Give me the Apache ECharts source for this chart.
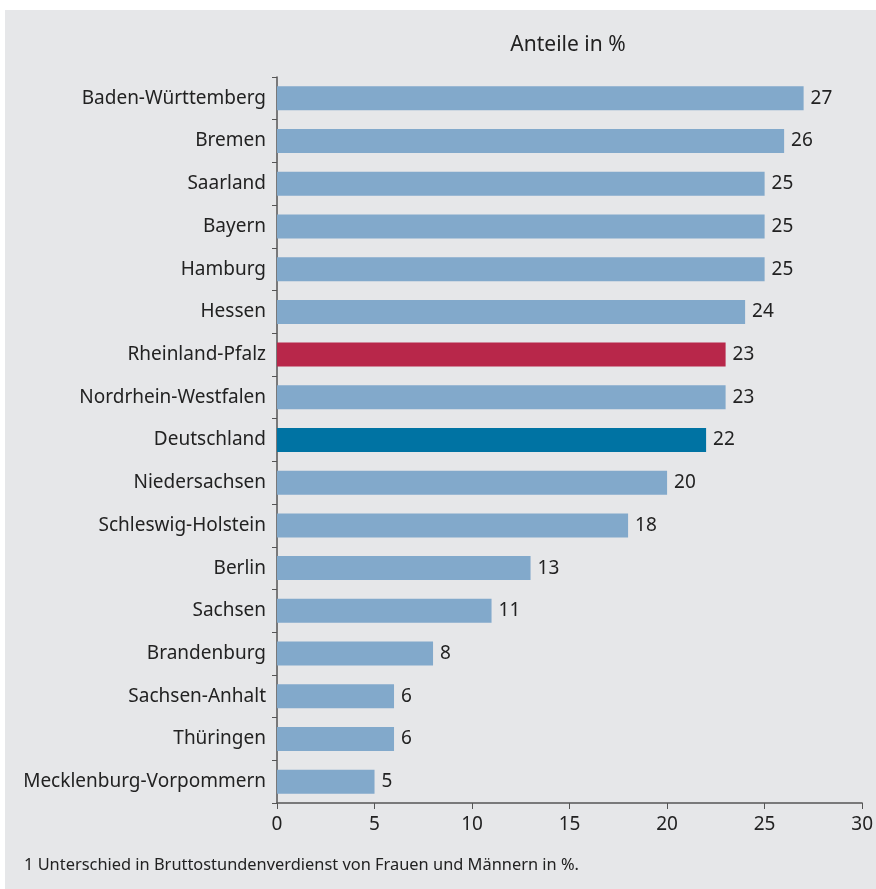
<!DOCTYPE html>
<html>
<head>
<meta charset="utf-8">
<script src="https://cdn.jsdelivr.net/npm/echarts@6/dist/echarts.min.js"></script>
<style>
html,body{margin:0;padding:0;background:#ffffff;}
#chart{width:876px;height:889px;}
</style>
</head>
<body>
<div id="chart"></div>
<script>
const categories = ["Baden-Württemberg","Bremen","Saarland","Bayern","Hamburg","Hessen","Rheinland-Pfalz","Nordrhein-Westfalen","Deutschland","Niedersachsen","Schleswig-Holstein","Berlin","Sachsen","Brandenburg","Sachsen-Anhalt","Thüringen","Mecklenburg-Vorpommern"];
const values = [27,26,25,25,25,24,23,23,22,20,18,13,11,8,6,6,5];
const xTicks = [0,5,10,15,20,25,30];
const axisTitle = "Anteile in %";
const footnote = "1 Unterschied in Bruttostundenverdienst von Frauen und Männern in %.";

const FONT = "'Noto Sans', sans-serif";
const specialColors = {"Rheinland-Pfalz":"#b8274a","Deutschland":"#0073a3"};
const baseColor = "#82a9cb";

const chart = echarts.init(document.getElementById('chart'));
chart.setOption({
  animation:false,
  textStyle:{fontFamily:FONT},
  graphic:[
    {type:'rect', left:5, top:10, shape:{width:871, height:879}, style:{fill:'#e6e7e9'}, z:-10, silent:true},
    {type:'text', left:24, top:857, style:{text:footnote, fill:'#222222', font:"16.4px 'Noto Sans', sans-serif"}}
  ],
  title:{text:axisTitle, left:563, top:30, textAlign:'center',
    textStyle:{fontFamily:FONT, fontSize:21, fontWeight:'normal', color:'#222222'}},
  grid:{left:277, right:13, top:77, bottom:86, containLabel:false},
  xAxis:{type:'value', min:0, max:30, interval:5,
    axisLine:{show:true, lineStyle:{color:'#555555', width:1.5}},
    axisTick:{show:true, length:6, lineStyle:{color:'#555555'}},
    splitLine:{show:false},
    axisLabel:{color:'#222222', fontSize:19, fontFamily:FONT, margin:12,
      formatter:v=> xTicks.includes(v)? String(v):''}},
  yAxis:{type:'category', data:categories, inverse:true,
    axisLine:{show:true, lineStyle:{color:'#555555', width:1.5}},
    axisTick:{show:true, length:5, lineStyle:{color:'#555555'}},
    axisLabel:{color:'#222222', fontSize:19, fontFamily:FONT, margin:11}},
  series:[{type:'bar', barWidth:24,
    data: values.map((v,i)=>({value:v, itemStyle:{color: specialColors[categories[i]] || baseColor}})),
    label:{show:true, position:'right', distance:7, color:'#222222', fontSize:19, fontFamily:FONT}
  }]
});
</script>
</body>
</html>
